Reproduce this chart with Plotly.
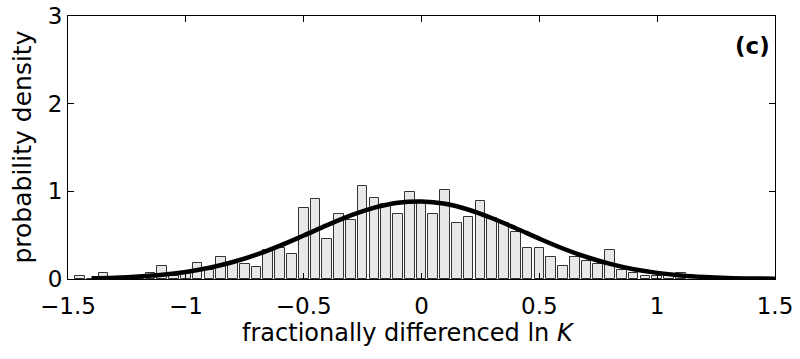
import plotly.graph_objects as go

# Histogram bins (centres) and densities
bin_centers = [-1.45, -1.40, -1.35, -1.30, -1.25, -1.20, -1.15, -1.10, -1.05, -1.00,
               -0.95, -0.90, -0.85, -0.80, -0.75, -0.70, -0.65, -0.60, -0.55, -0.50,
               -0.45, -0.40, -0.35, -0.30, -0.25, -0.20, -0.15, -0.10, -0.05, 0.00,
               0.05, 0.10, 0.15, 0.20, 0.25, 0.30, 0.35, 0.40, 0.45, 0.50,
               0.55, 0.60, 0.65, 0.70, 0.75, 0.80, 0.85, 0.90, 0.95, 1.00,
               1.05, 1.10]
density = [0.035, 0.0, 0.07, 0.0, 0.0, 0.0, 0.07, 0.145, 0.035, 0.07,
           0.18, 0.105, 0.25, 0.18, 0.175, 0.14, 0.33, 0.355, 0.285, 0.815,
           0.915, 0.46, 0.74, 0.67, 1.06, 0.92, 0.85, 0.74, 0.99, 0.87,
           0.74, 1.02, 0.64, 0.71, 0.885, 0.70, 0.64, 0.54, 0.35, 0.35,
           0.25, 0.145, 0.25, 0.21, 0.17, 0.33, 0.105, 0.07, 0.035, 0.035,
           0.035, 0.07]

# Fitted density curve
curve_x = [-1.4, -1.3, -1.2, -1.1, -1.0, -0.9, -0.8, -0.7, -0.6, -0.5,
           -0.4, -0.3, -0.2, -0.1, 0.0, 0.1, 0.2, 0.3, 0.4, 0.5,
           0.6, 0.7, 0.8, 0.9, 1.0, 1.1, 1.2, 1.3, 1.4, 1.5]
curve_y = [0.008, 0.015, 0.028, 0.048, 0.081, 0.128, 0.194, 0.278, 0.381, 0.496,
           0.614, 0.725, 0.814, 0.870, 0.885, 0.858, 0.790, 0.693, 0.579, 0.460,
           0.348, 0.251, 0.172, 0.112, 0.070, 0.041, 0.023, 0.012, 0.006, 0.003]

x_tickvals = [-1.5, -1.0, -0.5, 0.0, 0.5, 1.0, 1.5]
x_ticktext = ["\u22121.5", "\u22121", "\u22120.5", "0", "0.5", "1", "1.5"]
y_tickvals = [0, 1, 2, 3]
y_ticktext = ["0", "1", "2", "3"]

FONT = "DejaVu Sans"

fig = go.Figure()
fig.add_trace(go.Bar(
    x=bin_centers, y=density, width=0.041,
    marker=dict(color="#e8e8e8", line=dict(color="#333333", width=1)),
    showlegend=False,
))
fig.add_trace(go.Scatter(
    x=curve_x, y=curve_y, mode="lines", line=dict(color="black", width=4.5, shape="spline"),
    showlegend=False,
))

axis_common = dict(
    showgrid=False, zeroline=False, showline=True, linecolor="black", linewidth=1,
    mirror="ticks", ticks="inside", ticklen=6, tickwidth=1, tickcolor="black",
    tickfont=dict(family=FONT, size=23, color="black"), automargin=False,
    ticklabeloverflow="allow",
)
fig.update_xaxes(range=[-1.5, 1.5], tickvals=x_tickvals, ticktext=x_ticktext,
                 ticklabelstandoff=6, **axis_common)
fig.update_yaxes(range=[0, 3], tickvals=y_tickvals, ticktext=y_ticktext,
                 ticklabelstandoff=0, **axis_common)

fig.update_layout(
    width=800, height=359,
    margin=dict(l=68, r=25, t=16, b=80),
    plot_bgcolor="white", paper_bgcolor="white",
    bargap=0,
    annotations=[
        dict(text="probability density", xref="paper", yref="paper", x=-0.065, y=0.5,
             xanchor="center", yanchor="middle", textangle=-90, showarrow=False,
             font=dict(family=FONT, size=25, color="black")),
        dict(text="fractionally differenced ln <i>K</i>", xref="paper", yref="paper",
             x=0.4816, y=-0.205, xanchor="center", yanchor="middle", showarrow=False,
             font=dict(family=FONT, size=24, color="black")),
        dict(text="<b>(c)</b>", xref="paper", yref="paper", x=0.968, y=0.887,
             xanchor="center", yanchor="middle", showarrow=False,
             font=dict(family=FONT, size=23, color="black")),
    ],
)

fig.write_html("out.html", config={"displayModeBar": False},
               post_script="document.body.style.margin='0';document.body.style.padding='0';")
